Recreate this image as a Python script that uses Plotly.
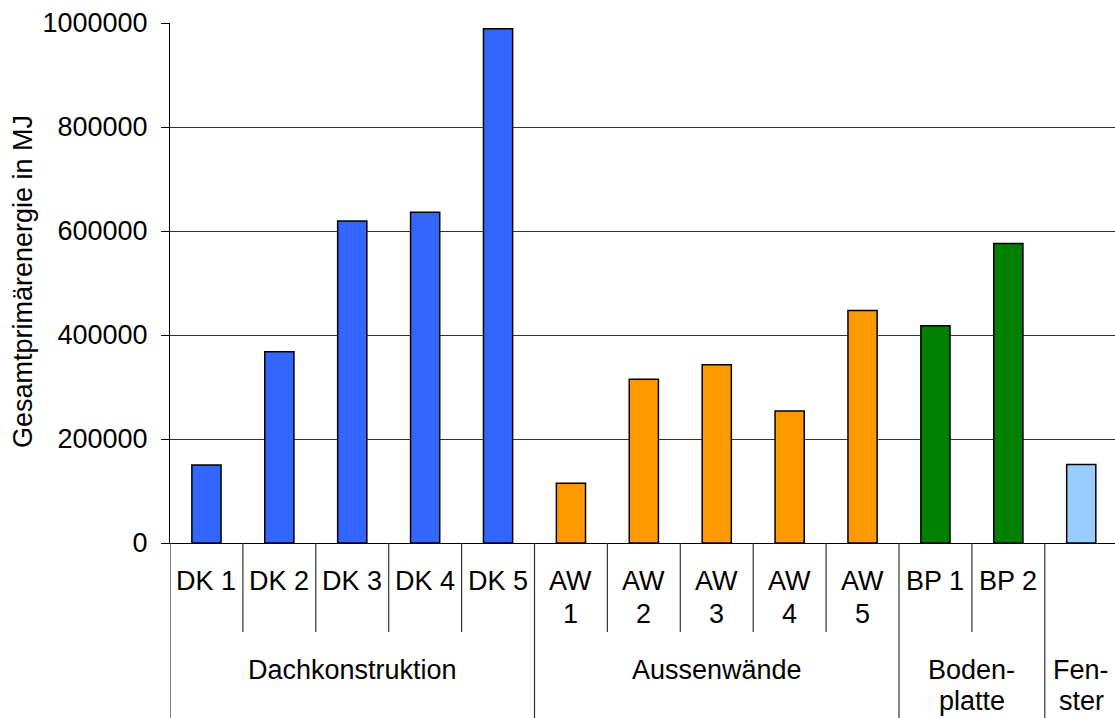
import plotly.graph_objects as go

# Components and their total primary energy demand (MJ)
components = ["DK 1", "DK 2", "DK 3", "DK 4", "DK 5",
              "AW 1", "AW 2", "AW 3", "AW 4", "AW 5",
              "BP 1", "BP 2", "Fenster"]
component_labels = [["DK 1"], ["DK 2"], ["DK 3"], ["DK 4"], ["DK 5"],
                    ["AW", "1"], ["AW", "2"], ["AW", "3"], ["AW", "4"], ["AW", "5"],
                    ["BP 1"], ["BP 2"], []]
groups = ["Dachkonstruktion"] * 5 + ["Aussenwände"] * 5 + ["Bodenplatte"] * 2 + ["Fenster"]
group_labels = {"Dachkonstruktion": ["Dachkonstruktion"],
                "Aussenwände": ["Aussenwände"],
                "Bodenplatte": ["Boden-", "platte"],
                "Fenster": ["Fen-", "ster"]}
energy_mj = [150000, 368000, 619000, 636000, 989000,
             115000, 315000, 343000, 254000, 447000,
             418000, 576000, 151000]
group_colors = {"Dachkonstruktion": "#3366FF",
                "Aussenwände": "#FF9900",
                "Bodenplatte": "#008000",
                "Fenster": "#99CCFF"}
y_ticks = [0, 200000, 400000, 600000, 800000, 1000000]

FONT = "Liberation Sans, Arial, sans-serif"
W, H = 1115, 718
ML, MT, MB = 170, 23, 175
plot_h = H - MT - MB
cat_w = 72.9
n = len(components)
x_pos = list(range(n))
x_max = -0.5 + (W - ML) / cat_w


def py(pixel_y):
    """Paper y coordinate for a pixel row below the top of the page."""
    return (H - MB - pixel_y) / plot_h


def text_line(x, center_px, text):
    return dict(x=x, y=py(center_px), xref="x", yref="paper", text=text,
                showarrow=False, xanchor="center", yanchor="middle",
                font=dict(family=FONT, size=27, color="black"))


fig = go.Figure(go.Bar(
    x=x_pos,
    y=energy_mj,
    width=0.4,
    marker=dict(color=[group_colors[g] for g in groups],
                line=dict(color="black", width=1.5)),
    hovertext=components,
    showlegend=False,
))

shapes = []
annotations = []

# separators between components and between component groups
for i in range(n):
    b = i - 0.5
    if i == 0 or groups[i] != groups[i - 1]:
        y1 = py(H + 5)
    else:
        y1 = py(632)
    shapes.append(dict(type="line", xref="x", yref="paper", x0=b, x1=b,
                       y0=0, y1=y1, line=dict(color="#333333", width=1.2)))

# component labels, one annotation per line
for i, lines in enumerate(component_labels):
    for k, line in enumerate(lines):
        annotations.append(text_line(i, 581 + 33 * k, line))

# group labels, one annotation per line
seen = []
for g in groups:
    if g not in seen:
        seen.append(g)
for g in seen:
    idx = [i for i, gg in enumerate(groups) if gg == g]
    cx = (idx[0] + idx[-1]) / 2
    for k, line in enumerate(group_labels[g]):
        annotations.append(text_line(cx, 670 + 31 * k, line))

# y-axis title
annotations.append(dict(x=(23 - ML) / (W - ML), y=py(282), xref="paper", yref="paper",
                        text="Gesamtprimärenergie in MJ", textangle=-90,
                        showarrow=False, xanchor="center", yanchor="middle",
                        font=dict(family=FONT, size=27, color="black")))

fig.update_layout(
    width=W, height=H,
    margin=dict(l=ML, r=0, t=MT, b=MB),
    paper_bgcolor="white", plot_bgcolor="white",
    font=dict(family=FONT, size=27, color="black"),
    shapes=shapes,
    annotations=annotations,
    xaxis=dict(range=[-0.5, x_max], showticklabels=False, ticks="",
               showgrid=False, zeroline=False, showline=True,
               linecolor="black", linewidth=1.2, fixedrange=True),
    yaxis=dict(range=[0, 1000000], tickvals=y_ticks, tickformat="d",
               ticks="outside", ticklen=8, tickcolor="black", tickwidth=1.2,
               showline=True, linecolor="black", linewidth=1.2,
               showgrid=True, gridcolor="#333333", gridwidth=1,
               zeroline=False, ticklabelstandoff=8,
               tickfont=dict(family=FONT, size=27, color="black")),
    bargap=0.6,
)

fig.write_html("out.html")
